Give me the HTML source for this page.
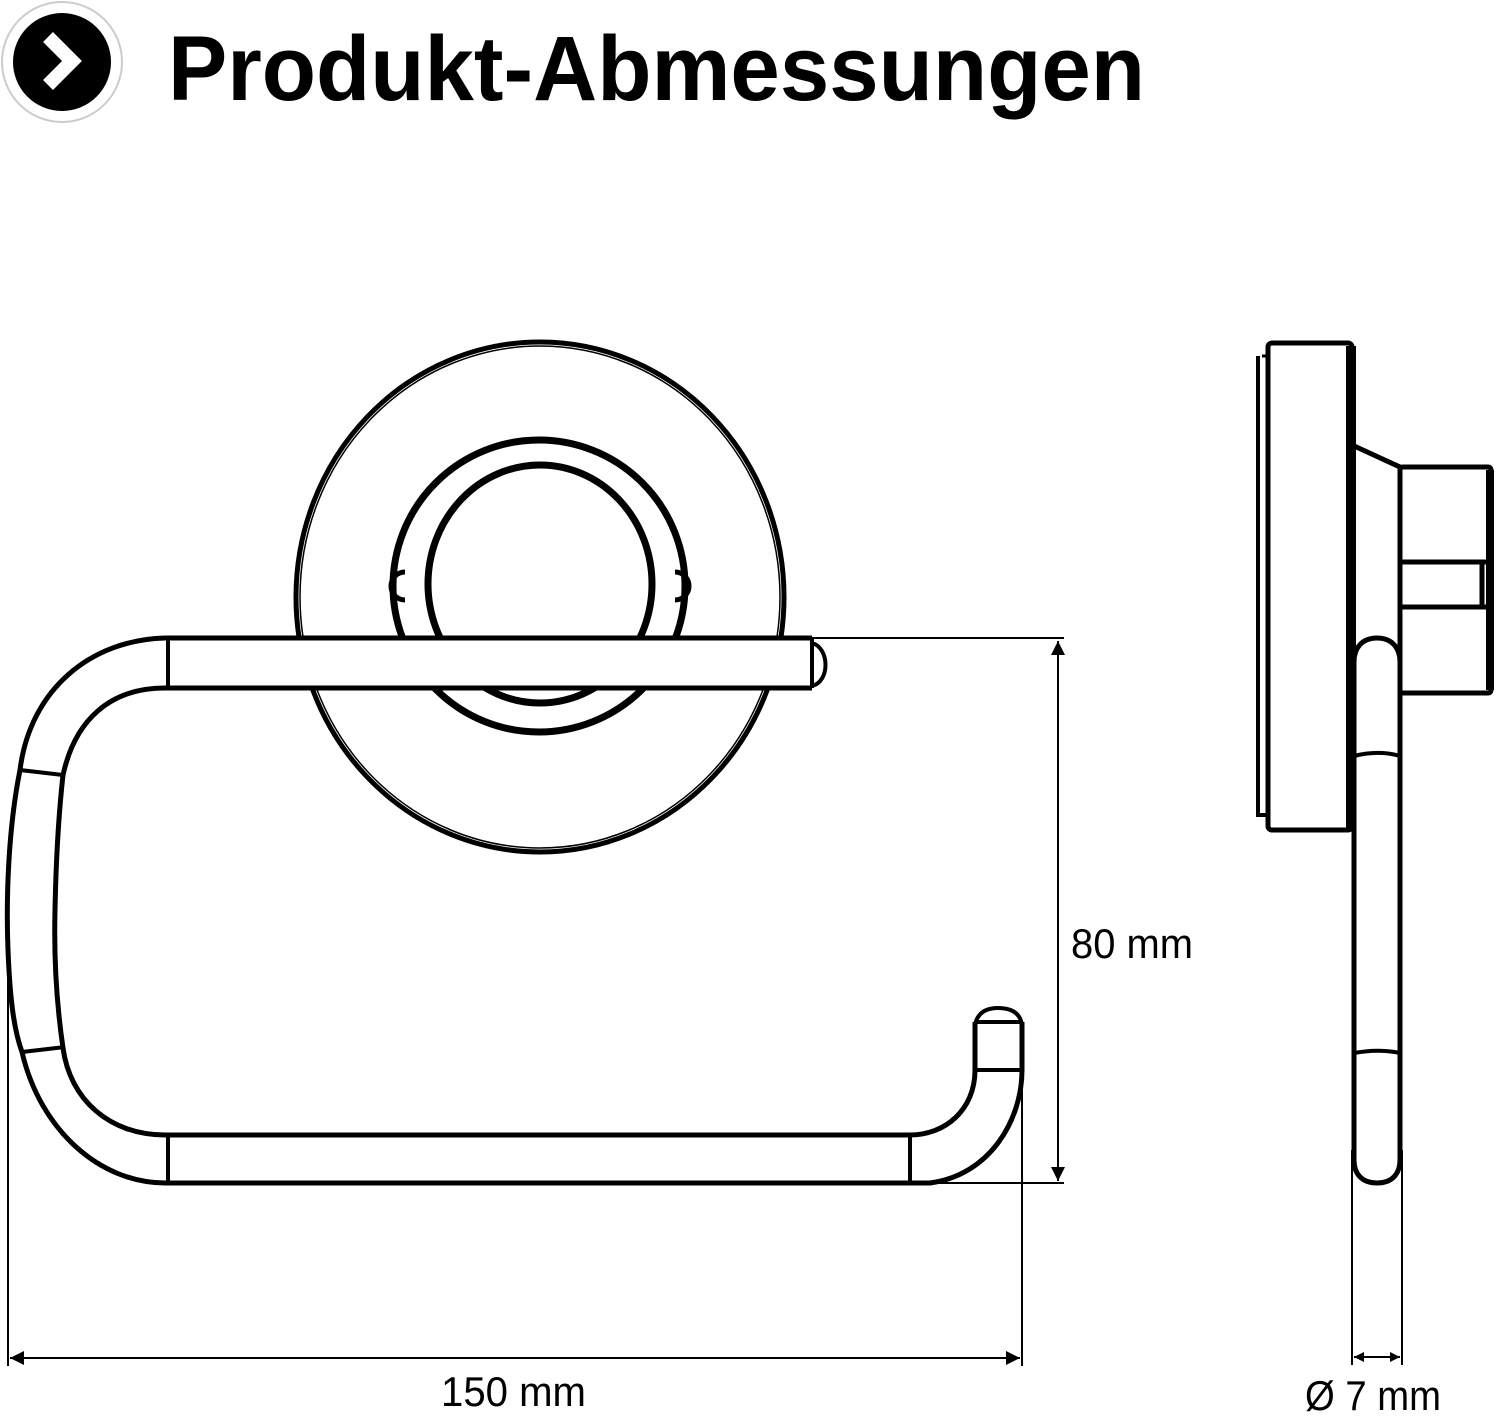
<!DOCTYPE html>
<html><head><meta charset="utf-8"><style>html,body{margin:0;padding:0;background:#fff;overflow:hidden}svg{display:block}</style></head>
<body>
<svg width="1500" height="1416" viewBox="0 0 1500 1416" xmlns="http://www.w3.org/2000/svg">
<defs>
<marker id="ar" viewBox="0 0 10 10" refX="10" refY="5" markerWidth="10" markerHeight="10" markerUnits="userSpaceOnUse" orient="auto-start-reverse"><path d="M0,0 L10,5 L0,10 z" fill="#000"/></marker>
<marker id="ar2" viewBox="0 0 10 10" refX="10" refY="5" markerWidth="16" markerHeight="14" markerUnits="userSpaceOnUse" orient="auto-start-reverse"><path d="M0,0 L10,5 L0,10 z" fill="#000"/></marker>
</defs>
<circle cx="62" cy="62" r="60" fill="#fff" stroke="#ccc" stroke-width="2"/>
<circle cx="62" cy="62" r="49" fill="#000"/>
<path d="M48,37 L72,61 L48,85" fill="none" stroke="#fff" stroke-width="14" stroke-linejoin="miter"/>
<text x="168" y="100" font-family="Liberation Sans, sans-serif" font-weight="bold" font-size="92" textLength="977" lengthAdjust="spacingAndGlyphs">Produkt-Abmessungen</text>

<g fill="none" stroke="#000">
<ellipse cx="540" cy="597" rx="244" ry="255" stroke-width="5"/>
<ellipse cx="540" cy="597" rx="240" ry="251" stroke-width="1.5"/>
<path d="M405,572 A14,14 0 0 0 405,600" stroke-width="5"/>
<path d="M675,572 A14,14 0 0 1 675,600" stroke-width="5"/>
<ellipse cx="539" cy="586" rx="146" ry="146" stroke-width="7"/>
<ellipse cx="540" cy="584" rx="112" ry="119" stroke-width="7"/>

<path d="M812,638 L165,638 C90,640 30,690 20,770 C8,830 6,900 8,950 C10,1000 14,1030 22,1052 C40,1130 100,1183 165,1183 L930,1183 C990,1175 1022,1120 1022,1070 L1022,1022 L975,1022 L975,1070 C975,1110 945,1135 910,1135 L165,1135 C110,1135 70,1100 63,1048 C56,1000 54,950 55,910 C56,860 58,820 63,775 C75,720 110,688 165,688 L812,688 Z" fill="#fff" stroke="none"/>
<path d="M812,638 L165,638 C90,640 30,690 20,770 C8,830 6,900 8,950 C10,1000 14,1030 22,1052 C40,1130 100,1183 165,1183 L930,1183 C990,1175 1022,1120 1022,1070 L1022,1022" stroke-width="5"/>
<path d="M812,688 L165,688 C110,688 75,720 63,775 C58,820 56,860 55,910 C54,950 56,1000 63,1048 C70,1100 110,1135 165,1135 L910,1135 C945,1135 975,1110 975,1070 L975,1022" stroke-width="5"/>
<path d="M812,638 L812,688" stroke-width="4"/>
<path d="M812,643 C830,648 830,682 812,686" stroke-width="4"/>
<path d="M168,638 L168,688 M168,1135 L168,1183 M910,1135 L910,1183 M20,770 L63,775 M22,1052 L65,1047 M975,1070 L1022,1070" stroke-width="4"/>
<path d="M975,1022 L1022,1022 M975,1025 C978,1010 990,1008 998,1008 C1010,1008 1020,1012 1022,1025" stroke-width="4"/>

<path d="M812,638 L1064,638 M930,1183 L1064,1183 M8,940 L8,1366 M1022,1090 L1022,1366" stroke-width="2"/>
<path d="M1058,641 L1058,1181" stroke-width="2" marker-start="url(#ar2)" marker-end="url(#ar2)"/>
<path d="M10,1358 L1020,1358" stroke-width="2" marker-start="url(#ar2)" marker-end="url(#ar2)"/>

<path d="M1258,356 L1258,815 L1266,815" stroke-width="4"/>
<path d="M1262,356 L1268,356" stroke-width="3"/>
<rect x="1268" y="343" width="84" height="487" rx="4" stroke-width="5"/>
<path d="M1351,346 L1351,828" stroke-width="10"/>
<path d="M1352,445 L1400,467 L1400,640" stroke-width="5"/>
<rect x="1400" y="467" width="91" height="226" rx="3" stroke-width="5"/>
<path d="M1490,470 L1490,690" stroke-width="8"/>
<path d="M1402,562 L1488,562 M1402,607 L1488,607 M1482,562 L1482,607" stroke-width="5"/>
<path d="M1354,662 C1354,648 1362,638 1377,638 C1392,638 1400,648 1400,662 L1400,1160 C1400,1174 1392,1183 1377,1183 C1362,1183 1354,1174 1354,1160 Z" fill="#fff" stroke-width="5"/>
<path d="M1354,756 C1370,752 1386,752 1400,756 M1354,1053 C1370,1050 1386,1050 1400,1053" stroke-width="4"/>
<path d="M1352,1150 L1352,1365 M1402,1150 L1402,1365" stroke-width="2"/>
<path d="M1354,1357 L1400,1357" stroke-width="2" marker-start="url(#ar)" marker-end="url(#ar)"/>
</g>

<g font-family="Liberation Sans, sans-serif" font-size="42" fill="#000">
<text x="1071" y="958" textLength="122" lengthAdjust="spacingAndGlyphs">80 mm</text>
<text x="441" y="1406" textLength="145" lengthAdjust="spacingAndGlyphs">150 mm</text>
<text x="1305" y="1410" textLength="136" lengthAdjust="spacingAndGlyphs">Ø 7 mm</text>
</g>
</svg>
</body></html>
